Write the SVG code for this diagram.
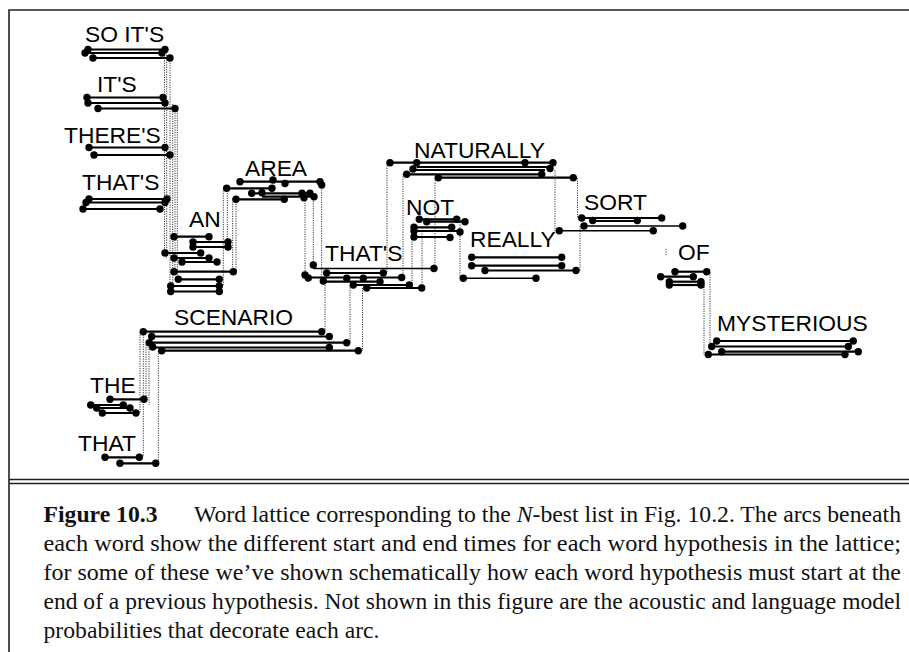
<svg xmlns="http://www.w3.org/2000/svg" xmlns:xlink="http://www.w3.org/1999/xlink" width="909" height="652" viewBox="0 0 909 652">
<defs>
<circle id="d" r="3.7" fill="#000"/>
<style>
.lbl{font-family:"Liberation Sans",Arial,sans-serif;font-size:22.8px;fill:#000}
.arc line{stroke:#000;stroke-width:2.2}
.conn line{stroke:#222;stroke-width:0.9;stroke-dasharray:1.2 1.2}
.frame{stroke:#222;stroke-width:1.6;fill:none}
.cap{font-family:"Liberation Serif","Times New Roman",serif;font-size:23.5px;fill:#111}
</style>
</defs>
<rect width="909" height="652" fill="#fff"/>
<g id="frame">
<path class="frame" d="M9,652 V10 H909"/>
<path class="frame" d="M9,479.5 H909 M9,483.5 H909"/>
</g>
<g id="connectors" class="conn">
<line x1="164.5" y1="53" x2="164.5" y2="253"/>
<line x1="166.7" y1="50" x2="166.7" y2="258"/>
<line x1="170" y1="58" x2="170" y2="292"/>
<line x1="172.7" y1="104" x2="172.7" y2="286"/>
<line x1="175" y1="108" x2="175" y2="272"/>
<line x1="177.3" y1="108" x2="177.3" y2="279"/>
<line x1="223.3" y1="188" x2="223.3" y2="286"/>
<line x1="227.3" y1="188" x2="227.3" y2="248"/>
<line x1="232.7" y1="199" x2="232.7" y2="272"/>
<line x1="236" y1="199" x2="236" y2="272"/>
<line x1="305" y1="193" x2="305" y2="275"/>
<line x1="313.3" y1="196" x2="313.3" y2="268"/>
<line x1="321.7" y1="185" x2="321.7" y2="280"/>
<line x1="325" y1="273" x2="325" y2="332"/>
<line x1="350" y1="285" x2="350" y2="343"/>
<line x1="362.5" y1="288" x2="362.5" y2="351"/>
<line x1="387" y1="163" x2="387" y2="273"/>
<line x1="403" y1="174" x2="403" y2="278"/>
<line x1="412" y1="227" x2="412" y2="285"/>
<line x1="422" y1="231" x2="422" y2="288"/>
<line x1="435" y1="178" x2="435" y2="269"/>
<line x1="460" y1="222" x2="460" y2="278"/>
<line x1="555" y1="170" x2="555" y2="231"/>
<line x1="577.5" y1="178" x2="577.5" y2="218"/>
<line x1="580" y1="226" x2="580" y2="271"/>
<line x1="704" y1="282" x2="704" y2="355"/>
<line x1="710" y1="272" x2="710" y2="347"/>
<line x1="666" y1="249" x2="666" y2="256"/>
<line x1="140" y1="332" x2="140" y2="413"/>
<line x1="143.3" y1="332" x2="143.3" y2="457"/>
<line x1="146" y1="342" x2="146" y2="399"/>
<line x1="149" y1="337" x2="149" y2="405"/>
<line x1="158.3" y1="351" x2="158.3" y2="463"/>
</g>
<g id="n-soits" class="arc">
<text class="lbl" x="85" y="41.5">SO IT'S</text>
<line x1="88" y1="49.5" x2="165" y2="49.5"/><use href="#d" x="88" y="49.5"/><use href="#d" x="165" y="49.5"/>
<line x1="85" y1="53" x2="162" y2="53"/><use href="#d" x="85" y="53"/><use href="#d" x="162" y="53"/>
<line x1="93" y1="58" x2="170" y2="58"/><use href="#d" x="93" y="58"/><use href="#d" x="170" y="58"/>
</g>
<g id="n-its" class="arc">
<text class="lbl" x="97" y="92">IT'S</text>
<line x1="87" y1="97.5" x2="163" y2="97.5"/><use href="#d" x="87" y="97.5"/><use href="#d" x="163" y="97.5"/>
<line x1="88" y1="103" x2="165" y2="103"/><use href="#d" x="88" y="103"/><use href="#d" x="165" y="103"/>
<line x1="98" y1="108.5" x2="175" y2="108.5"/><use href="#d" x="98" y="108.5"/><use href="#d" x="175" y="108.5"/>
</g>
<g id="n-theres" class="arc">
<text class="lbl" x="64" y="143">THERE'S</text>
<line x1="89" y1="147.5" x2="165" y2="147.5"/><use href="#d" x="89" y="147.5"/><use href="#d" x="165" y="147.5"/>
<line x1="94" y1="155" x2="170" y2="155"/><use href="#d" x="94" y="155"/><use href="#d" x="170" y="155"/>
</g>
<g id="n-thats1" class="arc">
<text class="lbl" x="82" y="190">THAT'S</text>
<line x1="89" y1="199" x2="167" y2="199"/><use href="#d" x="89" y="199"/><use href="#d" x="167" y="199"/>
<line x1="86" y1="202.5" x2="165" y2="202.5"/><use href="#d" x="86" y="202.5"/><use href="#d" x="165" y="202.5"/>
<line x1="83" y1="209" x2="160" y2="209"/><use href="#d" x="83" y="209"/><use href="#d" x="160" y="209"/>
</g>
<g id="n-an" class="arc">
<text class="lbl" x="189" y="227">AN</text>
<line x1="174" y1="236.7" x2="209" y2="236.7"/><use href="#d" x="174" y="236.7"/><use href="#d" x="209" y="236.7"/>
<line x1="193" y1="242" x2="228" y2="242"/><use href="#d" x="193" y="242"/><use href="#d" x="228" y="242"/>
<line x1="193" y1="247" x2="228" y2="247"/><use href="#d" x="193" y="247"/><use href="#d" x="228" y="247"/>
<line x1="165" y1="253" x2="200.7" y2="253"/><use href="#d" x="165" y="253"/><use href="#d" x="200.7" y="253"/>
<line x1="174" y1="258" x2="209" y2="258"/><use href="#d" x="174" y="258"/><use href="#d" x="209" y="258"/>
<line x1="182" y1="262" x2="217" y2="262"/><use href="#d" x="182" y="262"/><use href="#d" x="217" y="262"/>
<line x1="174" y1="271.7" x2="233.3" y2="271.7"/><use href="#d" x="174" y="271.7"/><use href="#d" x="233.3" y="271.7"/>
<line x1="178.3" y1="279.3" x2="219.3" y2="279.3"/><use href="#d" x="178.3" y="279.3"/><use href="#d" x="219.3" y="279.3"/>
<line x1="170.7" y1="286" x2="219.3" y2="286"/><use href="#d" x="170.7" y="286"/><use href="#d" x="219.3" y="286"/>
<line x1="170.7" y1="291.5" x2="219.3" y2="291.5"/><use href="#d" x="170.7" y="291.5"/><use href="#d" x="219.3" y="291.5"/>
</g>
<g id="n-area" class="arc">
<text class="lbl" x="245" y="175.5">AREA</text>
<line x1="240" y1="181.7" x2="320" y2="181.7"/><use href="#d" x="240" y="181.7"/><use href="#d" x="273" y="180"/><use href="#d" x="285" y="183.5"/><use href="#d" x="320" y="181.7"/><use href="#d" x="321.7" y="185"/>
<line x1="226.7" y1="188.3" x2="272" y2="188.3"/><use href="#d" x="226.7" y="188.3"/><use href="#d" x="272" y="188.3"/>
<line x1="251.7" y1="193.3" x2="310" y2="193.3"/><use href="#d" x="251.7" y="193.3"/><use href="#d" x="262" y="192.7"/><use href="#d" x="302" y="193.3"/><use href="#d" x="310" y="193.3"/>
<line x1="262" y1="196.7" x2="314" y2="196.7"/><use href="#d" x="304" y="197.7"/><use href="#d" x="314" y="196.7"/>
<line x1="236" y1="199.3" x2="284.3" y2="199.3"/><use href="#d" x="236" y="199.3"/><use href="#d" x="284.3" y="199.3"/>
</g>
<g id="n-thats2" class="arc">
<text class="lbl" x="325" y="261">THAT'S</text>
<line x1="313.3" y1="268.5" x2="434" y2="268.5" style="stroke-width:1.5"/><use href="#d" x="313.3" y="265"/><use href="#d" x="434" y="268.5"/>
<line x1="326.7" y1="273" x2="383.3" y2="273"/><use href="#d" x="326.7" y="273"/><use href="#d" x="383.3" y="273"/>
<line x1="308.3" y1="277.5" x2="401.7" y2="277.5"/><use href="#d" x="305" y="275"/><use href="#d" x="308.3" y="278"/><use href="#d" x="401.7" y="277.5"/>
<line x1="323.3" y1="281.7" x2="380" y2="281.7"/><use href="#d" x="323.3" y="281"/><use href="#d" x="346.7" y="278.3"/><use href="#d" x="363.3" y="278.3"/><use href="#d" x="380" y="281.7"/>
<line x1="353.3" y1="285" x2="409.3" y2="285"/><use href="#d" x="353.3" y="285"/><use href="#d" x="409.3" y="285"/>
<line x1="366.7" y1="288" x2="421.7" y2="288"/><use href="#d" x="366.7" y="288"/><use href="#d" x="421.7" y="288"/>
</g>
<g id="n-naturally" class="arc">
<text class="lbl" x="414" y="158">NATURALLY</text>
<line x1="390" y1="162.7" x2="553" y2="162.7"/><use href="#d" x="390" y="162.7"/><use href="#d" x="416.7" y="162.7"/><use href="#d" x="525" y="162.7"/><use href="#d" x="553" y="162.7"/>
<line x1="416.7" y1="167" x2="550" y2="167"/><use href="#d" x="550" y="168.5"/>
<line x1="413" y1="170" x2="545" y2="170"/><use href="#d" x="413" y="169"/>
<line x1="406.7" y1="174.3" x2="541.7" y2="174.3"/><use href="#d" x="406.7" y="174.3"/><use href="#d" x="541.7" y="174.3"/>
<line x1="438.3" y1="177.7" x2="573.3" y2="177.7"/><use href="#d" x="438.3" y="177.7"/><use href="#d" x="573.3" y="177.7"/>
</g>
<g id="n-not" class="arc">
<text class="lbl" x="406" y="214.5">NOT</text>
<line x1="419.3" y1="219.3" x2="456.7" y2="219.3"/><use href="#d" x="419.3" y="219.3"/><use href="#d" x="456.7" y="219.3"/>
<line x1="426.7" y1="221.7" x2="465" y2="221.7"/><use href="#d" x="426.7" y="221.7"/><use href="#d" x="465" y="221.7"/>
<line x1="414" y1="227.3" x2="451.7" y2="227.3"/><use href="#d" x="414" y="227.3"/><use href="#d" x="451.7" y="227.3"/>
<line x1="414" y1="231" x2="460" y2="231"/><use href="#d" x="414" y="231"/><use href="#d" x="460" y="232"/>
<line x1="414" y1="237" x2="450" y2="237"/><use href="#d" x="414" y="237"/><use href="#d" x="450" y="237.5"/>
</g>
<g id="n-really" class="arc">
<text class="lbl" x="470" y="247">REALLY</text>
<line x1="471.7" y1="257.3" x2="561.7" y2="257.3"/><use href="#d" x="471.7" y="257.3"/><use href="#d" x="561.7" y="257.3"/>
<line x1="471.7" y1="265.7" x2="561.7" y2="265.7"/><use href="#d" x="471.7" y="265.7"/><use href="#d" x="561.7" y="265.7"/>
<line x1="485" y1="270.5" x2="576" y2="270.5"/><use href="#d" x="485" y="270.5"/><use href="#d" x="576" y="270.5"/>
<line x1="463.3" y1="278.3" x2="536" y2="278.3" style="stroke-width:1.6"/><use href="#d" x="463.3" y="278.3"/><use href="#d" x="536" y="278.3"/>
</g>
<g id="n-sort" class="arc">
<text class="lbl" x="584" y="209.5">SORT</text>
<line x1="581.7" y1="218" x2="661.7" y2="218"/><use href="#d" x="581.7" y="218"/><use href="#d" x="661.7" y="218"/>
<line x1="592.7" y1="221" x2="637.3" y2="221"/><use href="#d" x="592.7" y="220.5"/><use href="#d" x="637.3" y="220.5"/>
<line x1="584" y1="226" x2="682.7" y2="226" style="stroke-width:1.6"/><use href="#d" x="584" y="226"/><use href="#d" x="682.7" y="226"/>
<line x1="559.3" y1="230.7" x2="653.3" y2="230.7" style="stroke-width:1.6"/><use href="#d" x="559.3" y="230.7"/><use href="#d" x="653.3" y="230.7"/>
</g>
<g id="n-of" class="arc">
<text class="lbl" x="678" y="259.5">OF</text>
<line x1="675" y1="271.7" x2="706.7" y2="271.7"/><use href="#d" x="675" y="271.7"/><use href="#d" x="706.7" y="271.7"/>
<line x1="660.7" y1="276.7" x2="693.3" y2="276.7"/><use href="#d" x="660.7" y="276.7"/><use href="#d" x="693.3" y="276.7"/>
<line x1="669.3" y1="281.7" x2="701" y2="281.7"/><use href="#d" x="669.3" y="281.7"/><use href="#d" x="701" y="281.7"/>
<line x1="669.3" y1="285" x2="701" y2="285"/><use href="#d" x="669.3" y="285"/><use href="#d" x="701" y="285"/>
</g>
<g id="n-mysterious" class="arc">
<text class="lbl" x="717" y="331">MYSTERIOUS</text>
<line x1="716.7" y1="341" x2="853.3" y2="341"/><use href="#d" x="716.7" y="341"/><use href="#d" x="853.3" y="341"/>
<line x1="711.7" y1="346.5" x2="848.3" y2="346.5"/><use href="#d" x="711.7" y="346.5"/><use href="#d" x="848.3" y="346.5"/>
<line x1="721.7" y1="351.7" x2="858.3" y2="351.7"/><use href="#d" x="721.7" y="351.7"/><use href="#d" x="858.3" y="351.7"/>
<line x1="708.3" y1="354.5" x2="845" y2="354.5"/><use href="#d" x="708.3" y="354.5"/><use href="#d" x="845" y="354.5"/>
</g>
<g id="n-scenario" class="arc">
<text class="lbl" x="174" y="325">SCENARIO</text>
<line x1="143.3" y1="331.7" x2="321.7" y2="331.7"/><use href="#d" x="143.3" y="331.7"/><use href="#d" x="321.7" y="331.7"/>
<line x1="151.7" y1="336.5" x2="329.3" y2="336.5"/><use href="#d" x="151.7" y="336.5"/><use href="#d" x="329.3" y="336.5"/>
<line x1="149.3" y1="342.7" x2="346.7" y2="342.7"/><use href="#d" x="149.3" y="342.7"/><use href="#d" x="346.7" y="342.7"/>
<line x1="152.7" y1="347.5" x2="329.3" y2="347.5"/><use href="#d" x="152.7" y="347"/><use href="#d" x="329.3" y="347.5"/>
<line x1="161.7" y1="350.7" x2="358.3" y2="350.7"/><use href="#d" x="161.7" y="350.7"/><use href="#d" x="358.3" y="350.7"/>
</g>
<g id="n-the" class="arc">
<text class="lbl" x="90" y="393">THE</text>
<line x1="110" y1="399.3" x2="144" y2="399.3"/><use href="#d" x="110" y="399.3"/><use href="#d" x="144" y="399.3"/>
<line x1="90.7" y1="405" x2="123.3" y2="405"/><use href="#d" x="90.7" y="405"/><use href="#d" x="123.3" y="405"/>
<line x1="96.7" y1="408" x2="130" y2="408"/><use href="#d" x="96.7" y="408"/><use href="#d" x="130" y="408"/>
<line x1="102.3" y1="413" x2="136" y2="413"/><use href="#d" x="102.3" y="413"/><use href="#d" x="136" y="413"/>
</g>
<g id="n-that" class="arc">
<text class="lbl" x="78" y="451">THAT</text>
<line x1="105" y1="457.3" x2="139.3" y2="457.3"/><use href="#d" x="105" y="457.3"/><use href="#d" x="139.3" y="457.3"/>
<line x1="120" y1="463.3" x2="155.7" y2="463.3"/><use href="#d" x="120" y="463.3"/><use href="#d" x="155.7" y="463.3"/>
</g>
<g id="caption">
<text class="cap" x="43.5" y="521.7" font-weight="bold" textLength="114" lengthAdjust="spacingAndGlyphs">Figure 10.3</text>
<text class="cap" x="194" y="521.7" textLength="707" lengthAdjust="spacingAndGlyphs">Word lattice corresponding to the <tspan font-style="italic">N</tspan>-best list in Fig. 10.2. The arcs beneath</text>
<text class="cap" x="43.5" y="550.8" textLength="857.5" lengthAdjust="spacingAndGlyphs">each word show the different start and end times for each word hypothesis in the lattice;</text>
<text class="cap" x="43.5" y="580" textLength="857.5" lengthAdjust="spacingAndGlyphs">for some of these we’ve shown schematically how each word hypothesis must start at the</text>
<text class="cap" x="43.5" y="609" textLength="857.5" lengthAdjust="spacingAndGlyphs">end of a previous hypothesis. Not shown in this figure are the acoustic and language model</text>
<text class="cap" x="43.5" y="638" textLength="336" lengthAdjust="spacingAndGlyphs">probabilities that decorate each arc.</text>
</g>
</svg>
